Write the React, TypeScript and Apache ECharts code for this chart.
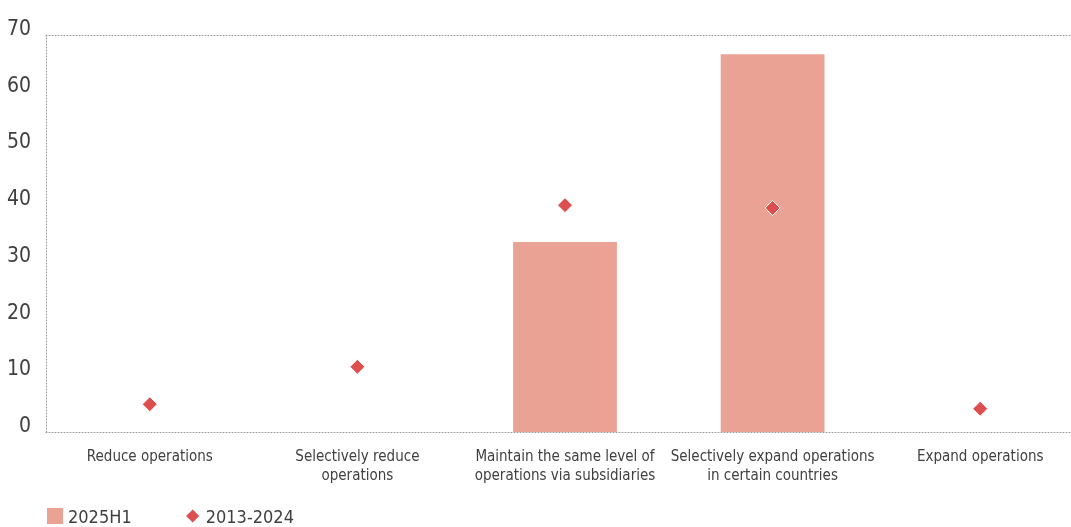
import React, { useEffect, useRef } from "react";
import * as echarts from "echarts";

const categories = [
  "Reduce operations",
  "Selectively reduce\noperations",
  "Maintain the same level of\noperations via subsidiaries",
  "Selectively expand operations\nin certain countries",
  "Expand operations",
];
const bar2025H1 = [0, 0, 33.5, 66.6, 0];
const dots20132024 = [4.9, 11.5, 40.0, 39.5, 4.1];
const yTicks = { min: 0, max: 70, interval: 10 };

const FONT = "'Liberation Sans Narrow', 'DejaVu Sans Condensed', 'Noto Sans', sans-serif";

export default function App() {
  const ref = useRef<HTMLDivElement>(null);
  useEffect(() => {
    if (!ref.current) return;
    const chart = echarts.init(ref.current, null, { renderer: "svg" });
    const dotted = { color: "#9a9a9a", type: [1, 2] as any, width: 1 };
    chart.setOption({
      animation: false,
      textStyle: { fontFamily: FONT },
      grid: { left: 46, top: 35, right: 0, height: 397, containLabel: false },
      legend: {
        left: 42,
        bottom: -3,
        itemGap: 52,
        itemWidth: 16,
        itemHeight: 16,
        textStyle: { fontFamily: FONT, fontSize: 18, color: "#404040" },
        data: [
          { name: "2025H1", icon: "rect" },
          { name: "2013-2024", icon: "diamond" },
        ],
      },
      xAxis: [
        {
          type: "category",
          data: categories,
          axisLine: { show: true, lineStyle: dotted },
          axisTick: { show: false },
          axisLabel: {
            interval: 0,
            margin: 14,
            fontFamily: FONT,
            fontSize: 15,
            color: "#404040",
            lineHeight: 19,
          },
        },
        {
          type: "category",
          position: "top",
          data: categories,
          axisLine: { show: true, lineStyle: dotted },
          axisTick: { show: false },
          axisLabel: { show: false },
        },
      ],
      yAxis: {
        type: "value",
        min: yTicks.min,
        max: yTicks.max,
        interval: yTicks.interval,
        axisLine: { show: true, lineStyle: dotted },
        axisTick: { show: false },
        splitLine: { show: false },
        axisLabel: {
          margin: 15,
          fontFamily: FONT,
          fontSize: 21,
          color: "#404040",
          verticalAlign: "bottom",
          lineHeight: 14,
        },
      },
      series: [
        {
          name: "2025H1",
          type: "bar",
          data: bar2025H1,
          barWidth: "50%",
          itemStyle: { color: "#EAA294" },
        },
        {
          name: "2013-2024",
          type: "scatter",
          data: dots20132024,
          symbol: "diamond",
          symbolSize: [15, 15],
          itemStyle: { color: "#DD4F4F", opacity: 1, borderColor: "#ffffff", borderWidth: 1 },
          z: 5,
        },
      ],
    });
    return () => chart.dispose();
  }, []);
  return (
    <div style={{ position: "fixed", left: 0, top: 0, width: 1071, height: 527, overflow: "hidden" }}>
      <div ref={ref} style={{ width: 1084, height: 527 }} />
    </div>
  );
}
